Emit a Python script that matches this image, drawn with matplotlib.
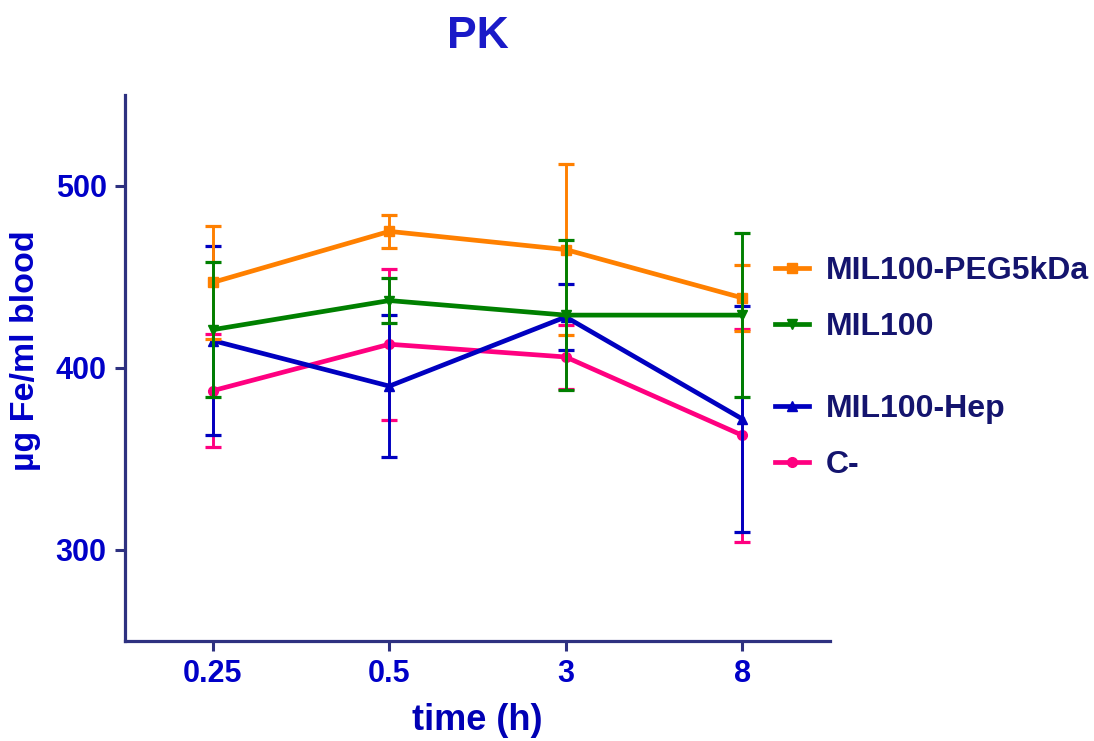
import matplotlib
matplotlib.use('Agg')
import matplotlib.pyplot as plt
from matplotlib.lines import Line2D

plt.rcParams['font.family'] = ['Liberation Sans', 'DejaVu Sans']
plt.rcParams['font.weight'] = 'bold'

# --- data ---
time_labels = ['0.25', '0.5', '3', '8']

peg_mean = [447, 475, 465, 438.5]
peg_err = [31, 9, 47, 18]

mil_mean = [421, 437, 429, 429]
mil_err = [37, 12.5, 41, 45]

hep_mean = [415, 390, 428, 372]
hep_err = [52, 39, 18, 62]

cneg_mean = [387.5, 413, 406, 363]
cneg_err = [31, 41.5, 17.5, 58.5]

series = [
    ('MIL100-PEG5kDa', peg_mean, peg_err, '#FF8000', 's'),
    ('MIL100', mil_mean, mil_err, '#008000', 'v'),
    ('MIL100-Hep', hep_mean, hep_err, '#0000C0', '^'),
    ('C-', cneg_mean, cneg_err, '#FF0080', 'o'),
]

AXIS_COL = '#2E3180'
TICK_COL = '#0000C8'
LEG_COL = '#14146E'

fig = plt.figure(figsize=(10.94, 7.41), dpi=100)
ax = fig.add_axes([0.114, 0.135, 0.645, 0.737])

x = list(range(len(time_labels)))
zorders = [4, 5, 3, 2]
for (name, m, e, c, mk), z in zip(series, zorders):
    ax.errorbar(x, m, yerr=e, color=c, marker=mk, markersize=7,
                linewidth=3.4, elinewidth=2.1, capsize=5.5, capthick=2.3,
                zorder=z)

ax.set_xlim(-0.5, 3.5)
ax.set_ylim(250, 550)
ax.set_xticks(x)
ax.set_xticklabels(time_labels)
ax.set_yticks([300, 400, 500])

for s in ['top', 'right']:
    ax.spines[s].set_visible(False)
for s in ['left', 'bottom']:
    ax.spines[s].set_color(AXIS_COL)
    ax.spines[s].set_linewidth(2.3)

ax.tick_params(axis='both', colors=AXIS_COL, width=2.2, length=7,
               labelsize=22, labelcolor=TICK_COL, pad=6)
for lab in ax.get_xticklabels() + ax.get_yticklabels():
    lab.set_fontweight('bold')

ax.set_xlabel('time (h)', fontsize=26, fontweight='bold', color='#0000B4', labelpad=10)
ax.set_ylabel('\u00b5g Fe/ml blood', fontsize=24.5, fontweight='bold', color=TICK_COL)
ax.yaxis.set_label_coords(-0.118, 0.531)
ax.set_title('PK', fontsize=32, fontweight='bold', color='#1A1AC8', pad=34)

# legend entries placed one by one (spacing in the original is uneven)
leg_y = [271, 327, 409, 465]
for (name, m, e, c, mk), yy in zip(series, leg_y):
    h = Line2D([], [], color=c, marker=mk, markersize=7, linewidth=3.4)
    lg = fig.legend([h], [name], loc='center left',
                    bbox_to_anchor=(775 / 1094, 1 - yy / 741),
                    frameon=False, borderpad=0, borderaxespad=0,
                    handlelength=1.05, handletextpad=0.55,
                    prop={'size': 23, 'weight': 'bold'})
    for t in lg.get_texts():
        t.set_color(LEG_COL)

fig.savefig('out.png', dpi=100)
